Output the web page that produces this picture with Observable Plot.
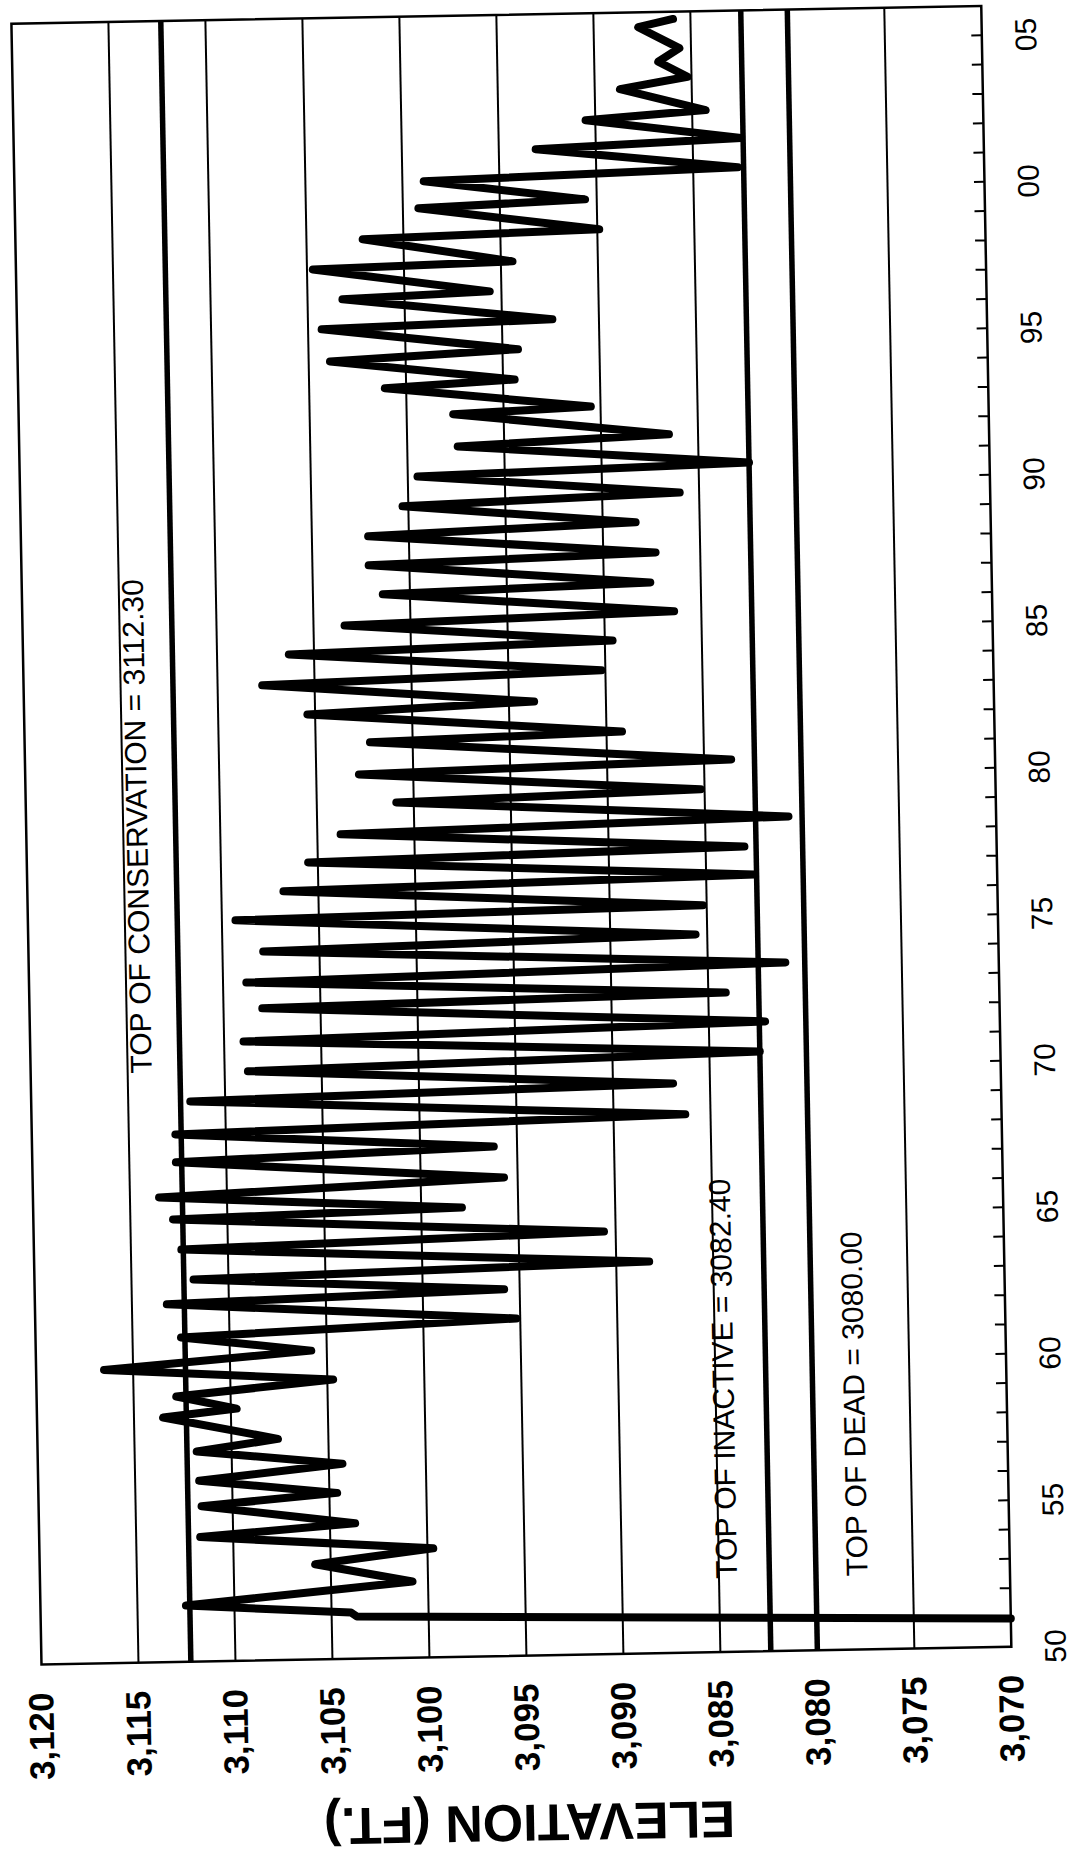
<!DOCTYPE html>
<html>
<head>
<meta charset="utf-8">
<script src="https://cdn.jsdelivr.net/npm/d3@7"></script>
<script src="https://cdn.jsdelivr.net/npm/@observablehq/plot@0.6"></script>
<style>
  html, body { margin: 0; padding: 0; background: #fff; }
  #wrap { position: relative; width: 1072px; height: 1858px; overflow: hidden; background: #fff; }
  #wrap svg { position: absolute; left: 0; top: 0; max-width: none; transform-origin: 0 0; overflow: visible; }
</style>
</head>
<body>
<div id="wrap"></div>
<script>
// ---- data ----
const years = [
  1950.96, 1951.44, 1951.58, 1951.92, 1952.60, 1953.25, 1953.72, 1954.25, 1954.62, 1955.30,
  1955.67, 1956.17, 1956.66, 1957.17, 1957.55, 1958.35, 1958.61, 1959.06, 1959.54, 1960.01,
  1960.54, 1961.07, 1961.51, 1962.21, 1962.51, 1963.04, 1963.37, 1964.07, 1964.42, 1965.10,
  1965.33, 1965.86, 1966.33, 1967.05, 1967.39, 1968.00, 1968.37, 1969.12, 1969.43, 1970.11,
  1970.47, 1971.13, 1971.49, 1972.25, 1972.50, 1973.14, 1973.49, 1974.19, 1974.50, 1975.27,
  1975.49, 1976.23, 1976.51, 1977.20, 1977.47, 1978.14, 1978.47, 1979.19, 1979.45, 1980.17,
  1980.45, 1981.26, 1981.47, 1982.25, 1982.55, 1983.27, 1983.57, 1984.31, 1984.58, 1985.26,
  1985.54, 1986.30, 1986.54, 1987.30, 1987.56, 1988.29, 1988.60, 1989.29, 1989.59, 1990.30,
  1990.57, 1991.30, 1991.58, 1992.40, 1992.58, 1993.33, 1993.55, 1994.28, 1994.58, 1995.38,
  1995.58, 1996.39, 1996.57, 1997.43, 1997.58, 1998.43, 1998.62, 1999.45, 1999.65, 2000.37,
  2000.65, 2001.39, 2001.65, 2002.35, 2002.62, 2003.39, 2003.77, 2004.30, 2004.75, 2005.49,
  2005.75
];
const elevations = [
  3070.0, 3103.7, 3104.0, 3112.5, 3100.8, 3105.8, 3099.7, 3111.7, 3103.7, 3111.6,
  3104.6, 3111.7, 3104.3, 3111.8, 3107.6, 3113.5, 3109.7, 3112.8, 3104.7, 3116.5,
  3105.8, 3112.5, 3095.2, 3113.2, 3095.8, 3111.8, 3088.3, 3112.4, 3090.6, 3112.8,
  3097.9, 3113.5, 3095.7, 3112.6, 3096.2, 3112.6, 3086.3, 3111.8, 3086.9, 3108.8,
  3082.4, 3109.0, 3082.1, 3108.0, 3084.1, 3108.8, 3081.0, 3107.9, 3085.6, 3109.3,
  3085.2, 3106.8, 3082.5, 3105.5, 3083.0, 3103.8, 3080.7, 3100.9, 3085.2, 3102.8,
  3083.6, 3102.2, 3089.2, 3105.4, 3093.7, 3107.7, 3090.2, 3106.3, 3089.6, 3103.4,
  3086.4, 3101.4, 3087.6, 3102.1, 3087.3, 3102.1, 3088.3, 3100.3, 3086.0, 3099.5,
  3082.4, 3097.4, 3086.5, 3097.6, 3090.5, 3101.1, 3094.4, 3103.9, 3094.2, 3104.3,
  3092.4, 3103.2, 3095.6, 3104.7, 3094.4, 3102.1, 3089.9, 3099.2, 3090.6, 3098.9,
  3082.7, 3093.1, 3082.5, 3090.5, 3084.3, 3088.7, 3085.2, 3086.7, 3085.6, 3087.7,
  3085.9
];
const elevationTicks = [3070, 3075, 3080, 3085, 3090, 3095, 3100, 3105, 3110, 3115, 3120];
const gridElevations = [3075, 3080, 3085, 3090, 3095, 3100, 3105, 3110, 3115];
const yearTicks = [1950, 1955, 1960, 1965, 1970, 1975, 1980, 1985, 1990, 1995, 2000, 2005];
const yearTickLabels = ["50", "55", "60", "65", "70", "75", "80", "85", "90", "95", "00", "05"];
const minorYearTicks = [
  1951, 1952, 1953, 1954, 1955, 1956, 1957, 1958, 1959, 1960, 1961, 1962, 1963, 1964,
  1965, 1966, 1967, 1968, 1969, 1970, 1971, 1972, 1973, 1974, 1975, 1976, 1977, 1978,
  1979, 1980, 1981, 1982, 1983, 1984, 1985, 1986, 1987, 1988, 1989, 1990, 1991, 1992,
  1993, 1994, 1995, 1996, 1997, 1998, 1999, 2000, 2001, 2002, 2003, 2004, 2005
];
const levelValues = [3112.3, 3082.4, 3080.0];
const levelLabels = ["TOP OF CONSERVATION = 3112.30", "TOP OF INACTIVE = 3082.40", "TOP OF DEAD = 3080.00"];
const levelLabelYears = [1970.1, 1952.5, 1952.5];
const axisTitle = "ELEVATION (FT.)";

// ---- build ----
const series = years.map((t, i) => ({t, e: elevations[i]}));
const levels = levelValues.map((v, i) => ({v, label: levelLabels[i], t: levelLabelYears[i]}));

const mL = 230, mR = 10, mT = 20, mB = 80;
const frameW = 1641, frameH = 970;
const W = mL + frameW + mR, H = mT + frameH + mB;
const font = "'Liberation Sans', Arial, Helvetica, sans-serif";

const svg = Plot.plot({
  width: W, height: H,
  marginLeft: mL, marginRight: mR, marginTop: mT, marginBottom: mB,
  x: {domain: [1950, 2006]},
  y: {domain: [3070, 3120]},
  style: {fontFamily: font, fontSize: "30px", color: "black", background: "transparent", overflow: "visible"},
  marks: [
    Plot.ruleY(gridElevations, {stroke: "black", strokeWidth: 2}),
    Plot.ruleY(levelValues, {stroke: "black", strokeWidth: 5.5}),
    Plot.tickX(minorYearTicks, {x: d => d, insetTop: frameH - 10, stroke: "black", strokeWidth: 2}),
    Plot.line(series, {x: "t", y: "e", stroke: "black", strokeWidth: 8, strokeLinejoin: "round", strokeLinecap: "round"}),
    Plot.text([levels[0]], {x: "t", y: "v", text: "label", textAnchor: "start", lineAnchor: "middle", dy: -38, fontSize: 30, fill: "black"}),
    Plot.text([levels[1]], {x: "t", y: "v", text: "label", textAnchor: "start", lineAnchor: "middle", dy: -42, fontSize: 30, fill: "black"}),
    Plot.text([levels[2]], {x: "t", y: "v", text: "label", textAnchor: "start", lineAnchor: "middle", dy: 42, fontSize: 30, fill: "black"}),
    Plot.frame({stroke: "black", strokeWidth: 2.5}),
    Plot.axisX(yearTicks, {tickFormat: d => yearTickLabels[yearTicks.indexOf(d)], tickSize: 0, tickPadding: 33, fontSize: 30, label: null}),
    Plot.axisY(elevationTicks, {tickFormat: d3.format(","), tickSize: 0, tickPadding: 28, fontSize: 35, fontWeight: "bold", label: null}),
    Plot.text([axisTitle], {frameAnchor: "left", textAnchor: "middle", lineAnchor: "middle", rotate: -90, dx: -166, fontSize: 52, fontWeight: "bold", fill: "black"})
  ]
});

// rotate the whole chart (portrait page, slight scan tilt)
const ang = -91.05 * Math.PI / 180;
const ca = Math.cos(ang), sa = Math.sin(ang);
const e = 41 - (ca * mL - sa * mT);
const f = 1665 - (sa * mL + ca * mT);
svg.style.maxWidth = "none";
svg.style.transform = `matrix(${ca},${sa},${-sa},${ca},${e},${f})`;
document.getElementById("wrap").appendChild(svg);
</script>
</body>
</html>
